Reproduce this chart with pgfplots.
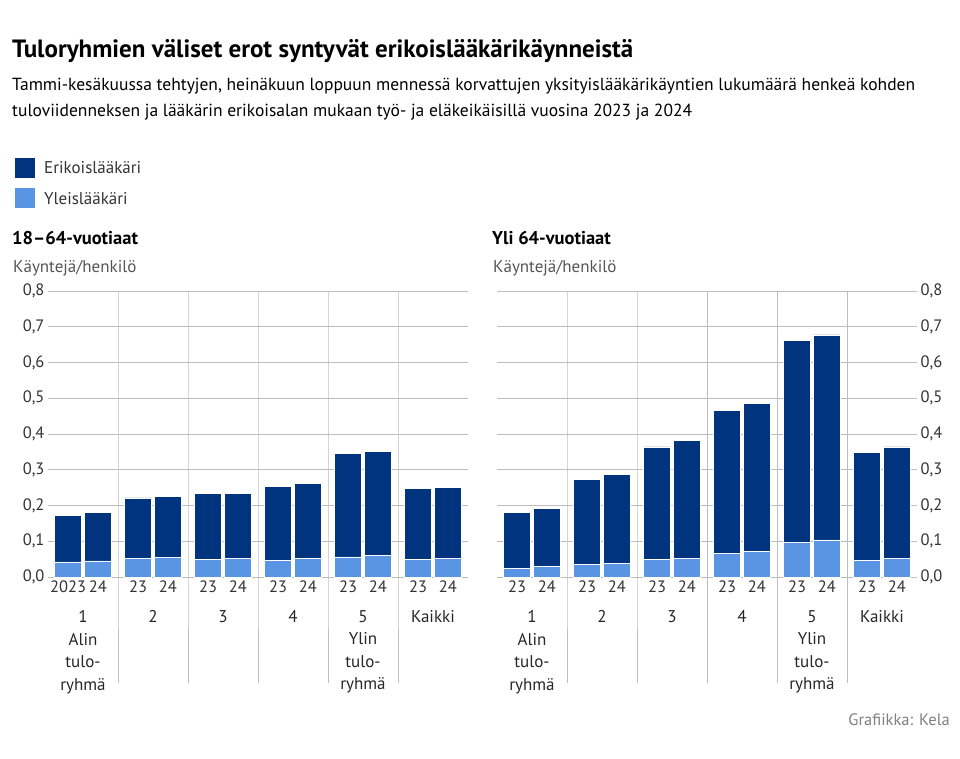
\documentclass[border=0pt]{standalone}
\usepackage{pgfplots}
\pgfplotsset{compat=1.18}
\usepackage{fontspec}
\setmainfont{PT Sans}
\definecolor{dark}{HTML}{00347F}
\definecolor{light}{HTML}{5A95E3}
\definecolor{gridc}{HTML}{BDBDBD}
\definecolor{txt}{HTML}{333333}
\definecolor{sub}{HTML}{555555}

\tikzset{grp/.style={anchor=north, align=center, yshift=-30pt, font=\fontsize{17}{22.5}\selectfont, text=black!85}}
\pgfplotsset{
  panel/.style={
    anchor=south west, width=420pt, height=286pt, scale only axis,
    xmin=0, xmax=6, ymin=0, ymax=0.8,
    ybar stacked, bar width=0.38,
    axis line style={draw=none}, major tick length=0pt,
    ymajorgrids, grid style={gridc, line width=0.8pt},
    ytick={0,0.1,...,0.8},
    yticklabel style={/pgf/number format/fixed, /pgf/number format/fixed zerofill, /pgf/number format/precision=1, /pgf/number format/use comma, /pgf/number format/assume math mode=true},
    yticklabel style={font=\fontsize{16.5}{18}\selectfont, text=txt},
    xtick={0.286,0.714,1.286,1.714,2.286,2.714,3.286,3.714,4.286,4.714,5.286,5.714},
    xticklabel style={font=\fontsize{16.5}{18}\selectfont, text=txt},
    clip=false,
  },
}

\begin{document}
\begin{tikzpicture}[x=1pt,y=1pt]
\path[use as bounding box] (0,0) rectangle (960,759);
\node[anchor=base west, inner sep=0pt, font=\fontsize{25}{28}\bfseries\selectfont] at (12,759-58) {Tuloryhmien väliset erot syntyvät erikoislääkärikäynneistä};
\node[anchor=base west, inner sep=0pt, font=\fontsize{17.5}{22}\selectfont] at (12,759-91) {Tammi-kesäkuussa tehtyjen, heinäkuun loppuun mennessä korvattujen yksityislääkärikäyntien lukumäärä henkeä kohden};
\node[anchor=base west, inner sep=0pt, font=\fontsize{17.5}{22}\selectfont] at (12,759-117) {tuloviidenneksen ja lääkärin erikoisalan mukaan työ- ja eläkeikäisillä vuosina 2023 ja 2024};
% legend
\fill[dark] (15,759-178) rectangle (35,759-158);
\node[anchor=base west, inner sep=0pt, font=\fontsize{17}{20}\selectfont, text=txt] at (44,759-174) {Erikoislääkäri};
\fill[light] (15,759-208) rectangle (35,759-188);
\node[anchor=base west, inner sep=0pt, font=\fontsize{17}{20}\selectfont, text=txt] at (44,759-205) {Yleislääkäri};
% panel titles
\node[anchor=base west, inner sep=0pt, font=\fontsize{18.5}{22}\bfseries\selectfont] at (12,759-245) {18–64-vuotiaat};
\node[anchor=base west, inner sep=0pt, font=\fontsize{17}{20}\selectfont, text=sub] at (13,759-273) {Käyntejä/henkilö};
\node[anchor=base west, inner sep=0pt, font=\fontsize{18.5}{22}\bfseries\selectfont] at (492,759-245) {Yli 64-vuotiaat};
\node[anchor=base west, inner sep=0pt, font=\fontsize{17}{20}\selectfont, text=sub] at (493,759-273) {Käyntejä/henkilö};
\node[anchor=base east, inner sep=0pt, font=\fontsize{16.5}{20}\selectfont, text=black!50] at (950,759-726) {Grafiikka: Kela};

% left panel
\begin{axis}[panel, at={(48pt,182pt)},
  xticklabels={2023,24,23,24,23,24,23,24,23,24,23,24}]
\addplot[fill=light, draw=white, line width=0.6pt] coordinates {
 (0.286,0.042) (0.714,0.045) (1.286,0.051) (1.714,0.054) (2.286,0.049) (2.714,0.051)
 (3.286,0.046) (3.714,0.051) (4.286,0.056) (4.714,0.061) (5.286,0.049) (5.714,0.052)};
\addplot[fill=dark, draw=white, line width=0.6pt] coordinates {
 (0.286,0.131) (0.714,0.135) (1.286,0.170) (1.714,0.172) (2.286,0.184) (2.714,0.183)
 (3.286,0.208) (3.714,0.211) (4.286,0.289) (4.714,0.291) (5.286,0.198) (5.714,0.199)};
\foreach \s in {1,2,3,4,5} {
  \edef\tmp{\noexpand\draw[gridc, line width=0.8pt] (axis cs:\s,0.8) -- (axis cs:\s,0) -- ++(0pt,-106pt);}
  \tmp
}
\node[grp] at (axis cs:0.5,0) {1\\Alin\\tulo-\\ryhmä};
\node[grp] at (axis cs:1.5,0) {2};
\node[grp] at (axis cs:2.5,0) {3};
\node[grp] at (axis cs:3.5,0) {4};
\node[grp] at (axis cs:4.5,0) {5\\Ylin\\tulo-\\ryhmä};
\node[grp] at (axis cs:5.5,0) {Kaikki};
\end{axis}

% right panel
\begin{axis}[panel, at={(497pt,182pt)}, yticklabel pos=right,
  xticklabels={23,24,23,24,23,24,23,24,23,24,23,24}]
\addplot[fill=light, draw=white, line width=0.6pt] coordinates {
 (0.286,0.024) (0.714,0.029) (1.286,0.035) (1.714,0.038) (2.286,0.049) (2.714,0.053)
 (3.286,0.066) (3.714,0.071) (4.286,0.097) (4.714,0.104) (5.286,0.047) (5.714,0.052)};
\addplot[fill=dark, draw=white, line width=0.6pt] coordinates {
 (0.286,0.156) (0.714,0.162) (1.286,0.238) (1.714,0.249) (2.286,0.315) (2.714,0.329)
 (3.286,0.400) (3.714,0.415) (4.286,0.564) (4.714,0.573) (5.286,0.302) (5.714,0.312)};
\foreach \s in {1,2,3,4,5} {
  \edef\tmp{\noexpand\draw[gridc, line width=0.8pt] (axis cs:\s,0.8) -- (axis cs:\s,0) -- ++(0pt,-106pt);}
  \tmp
}
\node[grp] at (axis cs:0.5,0) {1\\Alin\\tulo-\\ryhmä};
\node[grp] at (axis cs:1.5,0) {2};
\node[grp] at (axis cs:2.5,0) {3};
\node[grp] at (axis cs:3.5,0) {4};
\node[grp] at (axis cs:4.5,0) {5\\Ylin\\tulo-\\ryhmä};
\node[grp] at (axis cs:5.5,0) {Kaikki};
\end{axis}
\end{tikzpicture}
\end{document}
